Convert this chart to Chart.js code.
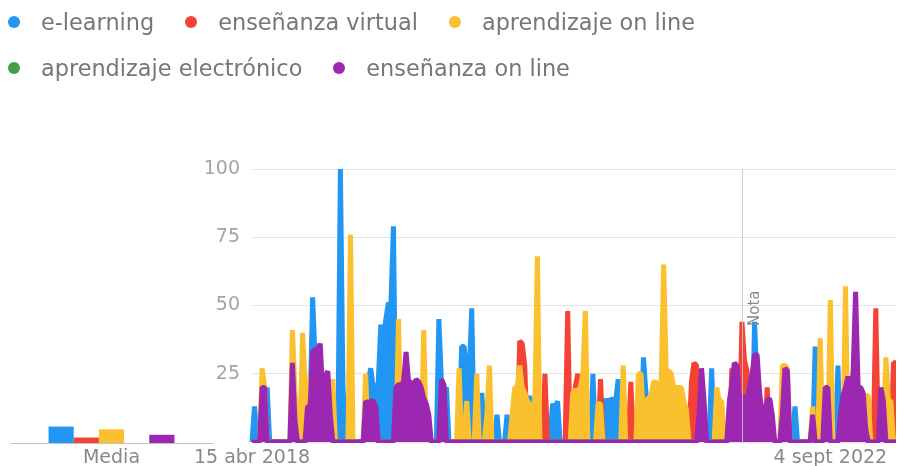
<!DOCTYPE html>
<html>
<head>
<meta charset="utf-8">
<script src="https://cdn.jsdelivr.net/npm/chart.js"></script>
<style>
body { margin: 0; background: #fff; overflow: hidden; font-family: 'DejaVu Sans', sans-serif; }
#wrap { position: relative; width: 901px; height: 466px; }
canvas { position: absolute; left: 0; top: 0; }
#legend { position: absolute; left: 8px; top: -1px; }
.row { display: flex; align-items: center; height: 46px; }
.item { display: flex; align-items: center; margin-right: 31px; font-size: 22.4px; color: #777; white-space: nowrap; }
.dot { width: 12px; height: 12px; border-radius: 50%; margin-right: 21px; }
</style>
</head>
<body>
<div id="wrap">
<canvas id="trendChart" width="901" height="466"></canvas>
<canvas id="mediaChart" width="230" height="466"></canvas>
<div id="legend"></div>
</div>

<script>

const seriesNames = ['e-learning', 'enseñanza virtual', 'aprendizaje on line', 'aprendizaje electrónico', 'enseñanza on line'];
const seriesColors = ['#2196f3', '#f44336', '#fbc02d', '#43a047', '#9c27b0'];
const legendRows = [[0, 1, 2], [3, 4]];

const monthNames = ['ene', 'feb', 'mar', 'abr', 'may', 'jun', 'jul', 'ago', 'sept', 'oct', 'nov', 'dic'];
const tickLabels = ['15 abr 2018', '4 sept 2022'];
const yTicks = [25, 50, 75, 100];

const mediaLabel = ['Media'];
const mediaValues = [6, 2, 5, 0, 3];

const noteLabel = 'Nota';
const noteWeek = 193.85;

// weekly values, 16 weeks per line, starting 15 abr 2018
const eLearning = [
    0, 13, 0, 0, 0, 0, 20, 0, 0, 0, 0, 0, 0, 0, 0, 0,
    0, 0, 0, 0, 0, 0, 0, 13, 53, 30, 0, 0, 0, 0, 0, 0,
    0, 0, 0, 100, 21, 0, 0, 0, 0, 0, 0, 0, 0, 0, 22, 27,
    20, 18, 22, 43, 38, 45, 51, 50, 79, 0, 0, 0, 0, 0, 0, 0,
    0, 0, 0, 0, 0, 0, 0, 0, 0, 0, 45, 22, 18, 20, 0, 0,
    0, 0, 0, 35, 35, 26, 24, 49, 0, 0, 0, 18, 0, 0, 0, 0,
    0, 10, 0, 0, 0, 10, 0, 0, 0, 0, 0, 0, 0, 0, 17, 0,
    0, 0, 0, 0, 0, 0, 0, 14, 12, 15, 0, 0, 0, 0, 0, 0,
    0, 0, 0, 0, 0, 0, 0, 25, 0, 0, 0, 0, 16, 9, 16, 15,
    15, 23, 0, 0, 0, 0, 0, 0, 0, 0, 0, 31, 18, 0, 0, 0,
    0, 0, 0, 0, 0, 0, 0, 0, 0, 0, 0, 0, 0, 0, 0, 0,
    0, 0, 0, 0, 0, 0, 27, 0, 0, 0, 0, 0, 0, 0, 0, 0,
    0, 0, 0, 0, 0, 0, 0, 44, 20, 0, 0, 0, 0, 0, 0, 0,
    0, 0, 0, 0, 0, 0, 0, 13, 0, 0, 0, 0, 0, 0, 0, 35,
    0, 0, 0, 0, 0, 0, 0, 0, 28, 0, 0, 0, 0, 0, 0, 0,
    10, 0, 0, 0, 0, 0, 0, 0, 0, 0, 0, 0, 0, 0, 0, 0
];

const ensenanzaVirtual = [
    0, 0, 0, 0, 0, 0, 0, 0, 0, 0, 0, 0, 0, 0, 0, 0,
    0, 0, 0, 0, 0, 0, 0, 0, 0, 0, 0, 0, 0, 0, 0, 0,
    0, 0, 0, 0, 0, 0, 0, 0, 0, 0, 0, 0, 0, 0, 0, 0,
    0, 0, 0, 0, 0, 0, 0, 0, 0, 0, 0, 0, 0, 0, 0, 0,
    0, 0, 0, 0, 0, 0, 0, 0, 0, 0, 0, 0, 0, 0, 0, 0,
    0, 0, 0, 0, 0, 0, 0, 0, 0, 0, 0, 0, 0, 0, 0, 0,
    0, 0, 0, 0, 0, 0, 0, 0, 0, 0, 37, 36, 28, 0, 0, 0,
    0, 0, 0, 0, 25, 0, 0, 0, 0, 0, 0, 0, 0, 48, 0, 0,
    20, 25, 0, 0, 0, 0, 0, 0, 0, 0, 23, 0, 0, 0, 0, 0,
    0, 0, 0, 0, 0, 0, 22, 0, 0, 0, 0, 0, 0, 0, 0, 0,
    0, 0, 0, 0, 0, 0, 0, 0, 0, 0, 0, 0, 0, 0, 22, 29,
    28, 0, 0, 0, 0, 0, 0, 0, 0, 0, 0, 0, 0, 0, 27, 0,
    0, 0, 44, 30, 26, 0, 0, 0, 0, 0, 0, 0, 20, 0, 0, 0,
    0, 0, 0, 0, 0, 0, 0, 0, 0, 0, 0, 0, 0, 0, 0, 0,
    0, 0, 0, 0, 0, 0, 0, 0, 0, 0, 0, 0, 0, 0, 0, 0,
    0, 0, 0, 0, 0, 0, 0, 49, 0, 0, 0, 0, 0, 0, 29, 29
];

const aprendizajeOnLine = [
    0, 0, 0, 0, 27, 20, 0, 0, 0, 0, 0, 0, 0, 0, 0, 0,
    41, 19, 8, 0, 40, 23, 23, 10, 0, 0, 0, 0, 0, 0, 0, 0,
    23, 0, 0, 0, 0, 0, 0, 76, 0, 0, 0, 0, 0, 25, 0, 0,
    0, 0, 0, 0, 0, 0, 0, 0, 0, 0, 45, 0, 0, 0, 0, 0,
    0, 0, 0, 0, 41, 0, 0, 0, 0, 0, 0, 0, 0, 0, 0, 0,
    0, 0, 27, 0, 0, 15, 0, 0, 0, 25, 0, 0, 0, 10, 28, 0,
    0, 0, 0, 0, 0, 0, 0, 10, 20, 20, 28, 20, 18, 15, 14, 12,
    13, 68, 0, 0, 0, 0, 0, 0, 0, 0, 0, 0, 0, 0, 0, 18,
    19, 19, 20, 25, 48, 0, 0, 0, 0, 14, 14, 0, 0, 0, 0, 0,
    0, 0, 0, 28, 0, 0, 0, 0, 0, 25, 25, 10, 15, 16, 17, 22,
    22, 20, 20, 65, 26, 26, 25, 20, 20, 20, 20, 15, 12, 0, 0, 0,
    0, 0, 0, 0, 0, 0, 0, 0, 20, 15, 15, 0, 0, 0, 0, 0,
    0, 0, 0, 0, 0, 0, 0, 0, 0, 0, 0, 0, 0, 0, 0, 0,
    0, 0, 28, 28, 27, 0, 0, 0, 0, 0, 0, 0, 0, 0, 13, 0,
    0, 38, 0, 0, 0, 52, 0, 0, 0, 0, 0, 57, 0, 0, 0, 0,
    0, 0, 0, 17, 17, 0, 0, 0, 0, 0, 0, 31, 15, 15, 0, 0
];

const aprendizajeElectronico = [
    0, 0, 0, 0, 0, 0, 0, 0, 0, 0, 0, 0, 0, 0, 0, 0,
    0, 0, 0, 0, 0, 0, 0, 0, 0, 0, 0, 0, 0, 0, 0, 0,
    0, 0, 0, 0, 0, 0, 0, 0, 0, 0, 0, 0, 0, 0, 0, 0,
    0, 0, 0, 0, 0, 0, 0, 0, 0, 0, 0, 0, 0, 0, 0, 0,
    0, 0, 0, 0, 0, 0, 0, 0, 0, 0, 0, 0, 0, 0, 0, 0,
    0, 0, 0, 0, 0, 0, 0, 0, 0, 0, 0, 0, 0, 0, 0, 0,
    0, 0, 0, 0, 0, 0, 0, 0, 0, 0, 0, 0, 0, 0, 0, 0,
    0, 0, 0, 0, 0, 0, 0, 0, 0, 0, 0, 0, 0, 0, 0, 0,
    0, 0, 0, 0, 0, 0, 0, 0, 0, 0, 0, 0, 0, 0, 0, 0,
    0, 0, 0, 0, 0, 0, 0, 0, 0, 0, 0, 0, 0, 0, 0, 0,
    0, 0, 0, 0, 0, 0, 0, 0, 0, 0, 0, 0, 0, 0, 0, 0,
    0, 0, 0, 0, 0, 0, 0, 0, 0, 0, 0, 0, 0, 0, 0, 0,
    0, 0, 0, 0, 0, 0, 0, 0, 0, 0, 0, 0, 0, 0, 0, 0,
    0, 0, 0, 0, 0, 0, 0, 0, 0, 0, 0, 0, 0, 0, 0, 0,
    0, 0, 0, 0, 0, 0, 0, 0, 0, 0, 0, 0, 0, 0, 0, 0,
    0, 0, 0, 0, 0, 0, 0, 0, 0, 0, 0, 0, 0, 0, 0, 0
];

const ensenanzaOnLine = [
    0, 0, 0, 0, 20, 20, 0, 0, 0, 0, 0, 0, 0, 0, 0, 0,
    29, 8, 0, 0, 0, 0, 13, 13, 33, 34, 34, 36, 18, 24, 26, 10,
    0, 0, 0, 0, 0, 0, 0, 0, 0, 0, 0, 0, 0, 15, 14, 15,
    15, 13, 0, 0, 0, 0, 0, 0, 0, 20, 21, 21, 22, 33, 22, 22,
    20, 23, 22, 20, 16, 14, 10, 0, 0, 0, 0, 23, 21, 0, 0, 0,
    0, 0, 0, 0, 0, 0, 0, 0, 0, 0, 0, 0, 0, 0, 0, 0,
    0, 0, 0, 0, 0, 0, 0, 0, 0, 0, 0, 0, 0, 0, 0, 0,
    0, 0, 0, 0, 0, 0, 0, 0, 0, 0, 0, 0, 0, 0, 0, 0,
    0, 0, 0, 0, 0, 0, 0, 0, 0, 0, 0, 0, 0, 0, 0, 0,
    0, 0, 0, 0, 0, 0, 0, 0, 0, 0, 0, 0, 0, 0, 0, 0,
    0, 0, 0, 0, 0, 0, 0, 0, 0, 0, 0, 0, 0, 0, 0, 0,
    0, 10, 27, 15, 0, 0, 0, 0, 0, 0, 0, 0, 0, 15, 21, 29,
    28, 15, 15, 17, 15, 20, 25, 32, 32, 18, 10, 12, 15, 16, 10, 0,
    0, 0, 10, 27, 26, 0, 0, 0, 0, 0, 0, 0, 0, 0, 10, 0,
    0, 0, 0, 20, 20, 0, 0, 0, 0, 10, 17, 20, 24, 20, 25, 55,
    20, 20, 18, 5, 0, 0, 0, 0, 0, 20, 15, 0, 0, 0, 0, 0
];

const seriesData = [eLearning, ensenanzaVirtual, aprendizajeOnLine, aprendizajeElectronico, ensenanzaOnLine];

// week labels
const weeks = [];
for (let i = 0; i < eLearning.length; i++) {
    const d = new Date(Date.UTC(2018, 3, 15 + 7 * i));
    weeks.push(d.getUTCDate() + ' ' + monthNames[d.getUTCMonth()] + ' ' + d.getUTCFullYear());
}

const fontFamily = "'DejaVu Sans', sans-serif";

// legend
const legendEl = document.getElementById('legend');
legendRows.forEach(function(row) {
    const rowEl = document.createElement('div');
    rowEl.className = 'row';
    row.forEach(function(i) {
        const item = document.createElement('div');
        item.className = 'item';
        const dot = document.createElement('span');
        dot.className = 'dot';
        dot.style.background = seriesColors[i];
        const txt = document.createElement('span');
        txt.textContent = seriesNames[i];
        item.appendChild(dot);
        item.appendChild(txt);
        rowEl.appendChild(item);
    });
    legendEl.appendChild(rowEl);
});

const notePlugin = {
    id: 'note',
    afterDatasetsDraw(chart) {
        const ctx = chart.ctx;
        const area = chart.chartArea;
        const x = Math.round(chart.scales.x.getPixelForValue(noteWeek)) + 0.5;
        ctx.save();
        ctx.strokeStyle = 'rgba(200,200,200,0.9)';
        ctx.lineWidth = 1;
        ctx.beginPath();
        ctx.moveTo(x, area.top);
        ctx.lineTo(x, area.bottom);
        ctx.stroke();
        ctx.translate(x + 13, chart.scales.y.getPixelForValue(49));
        ctx.rotate(-Math.PI / 2);
        ctx.fillStyle = '#888';
        ctx.font = '15px ' + fontFamily;
        ctx.textAlign = 'center';
        ctx.textBaseline = 'middle';
        ctx.fillText(noteLabel, 0, 0);
        ctx.restore();
    }
};

const lastSeries = seriesData.length - 1;

new Chart(document.getElementById('trendChart'), {

    type: 'line',

    data: {
        labels: weeks,
        datasets: seriesData.map(function(d, i) {
            return {
                label: seriesNames[i],
                data: d,
                borderColor: seriesColors[i],
                backgroundColor: seriesColors[i],
                borderWidth: 5,
                borderJoinStyle: 'bevel',
                pointRadius: 0,
                tension: 0,
                fill: 'origin',
                clip: { left: 5, top: 5, right: 5, bottom: i === lastSeries ? 1 : 0 },
                order: seriesData.length - i
            };
        })
    },

    options: {
        responsive: false,
        animation: false,
        layout: {
            padding: { left: 0, right: 1, top: 169, bottom: 0 }
        },
        plugins: {
            legend: { display: false },
            tooltip: { enabled: false }
        },
        scales: {
            x: {
                offset: false,
                grid: { display: false, drawTicks: false },
                border: { display: false },
                ticks: {
                    autoSkip: false,
                    maxRotation: 0,
                    minRotation: 0,
                    padding: 5,
                    color: '#888',
                    font: { family: fontFamily, size: 19 },
                    callback: function(value) {
                        const lab = this.getLabelForValue(value);
                        return tickLabels.includes(lab) ? lab : '';
                    }
                },
                afterFit: function(scale) { scale.height = 24; }
            },
            y: {
                min: 0,
                max: 100,
                grid: { color: '#e3e3e3', drawTicks: false },
                border: { display: false },
                ticks: {
                    stepSize: 25,
                    padding: 12,
                    color: '#a3a3a3',
                    font: { family: fontFamily, size: 19 },
                    callback: function(value) {
                        return yTicks.includes(value) ? value : '';
                    }
                },
                afterFit: function(scale) { scale.width = 252; }
            }
        }
    },

    plugins: [notePlugin]

});

new Chart(document.getElementById('mediaChart'), {

    type: 'bar',

    data: {
        labels: mediaLabel,
        datasets: mediaValues.map(function(v, i) {
            return {
                label: seriesNames[i],
                data: [v],
                backgroundColor: seriesColors[i],
                categoryPercentage: 0.62,
                barPercentage: 1
            };
        })
    },

    options: {
        responsive: false,
        animation: false,
        layout: {
            padding: { left: 10, right: 17, top: 169, bottom: 0 }
        },
        plugins: {
            legend: { display: false },
            tooltip: { enabled: false }
        },
        scales: {
            x: {
                grid: { display: false, drawTicks: false },
                border: { display: true, color: '#c4c4c4', width: 1 },
                ticks: {
                    padding: 4,
                    color: '#888',
                    font: { family: fontFamily, size: 19 }
                },
                afterFit: function(scale) { scale.height = 23; }
            },
            y: { display: false, min: 0, max: 100 }
        }
    }

});

</script>
</body>
</html>
